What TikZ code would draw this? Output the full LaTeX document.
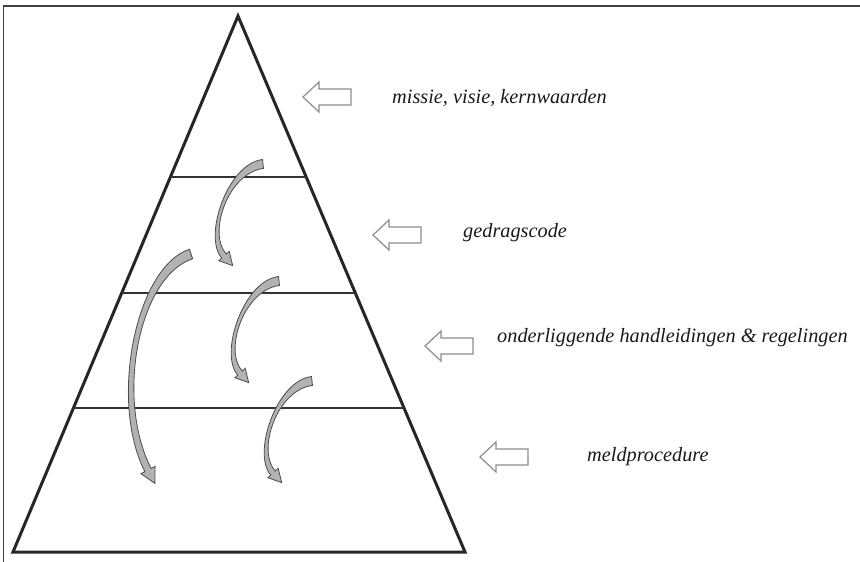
\documentclass[tikz,border=0pt]{standalone}
\usepackage{fontspec}
\setmainfont{Liberation Serif}
\usetikzlibrary{calc}
\tikzset{
  tri/.style={line width=3pt, draw=black!85, line join=miter},
  tier/.style={line width=2pt, draw=black!80},
  frameline/.style={line width=1.6pt, draw=black!75},
  blockarrow/.style={draw=black!45, line width=1.2pt, fill=white, line join=miter},
  curved/.style={draw=black!70, line width=0.8pt, fill=black!30},
  lbl/.style={font=\fontsize{20.3}{24}\selectfont\itshape, anchor=base west, inner sep=0pt, text=black!90},
}
% #1..#4 centre-line points, #5 half width at tail, #6 half width at head base,
% #7 half width of head, #8 head length
\newcommand\curvarr[8]{%
  \coordinate (P0) at #1; \coordinate (P1) at #2;
  \coordinate (P2) at #3; \coordinate (P3) at #4;
  \coordinate (L0) at ($(P0)!#5!90:(P1)$);
  \coordinate (R0) at ($(P0)!#5!-90:(P1)$);
  \coordinate (L3) at ($(P3)!#6!-90:(P2)$);
  \coordinate (R3) at ($(P3)!#6!90:(P2)$);
  \coordinate (L1) at ($(L0)+(P1)-(P0)$);
  \coordinate (R1) at ($(R0)+(P1)-(P0)$);
  \coordinate (L2) at ($(L3)+(P2)-(P3)$);
  \coordinate (R2) at ($(R3)+(P2)-(P3)$);
  \coordinate (HL) at ($(P3)!#7!-90:(P2)$);
  \coordinate (HR) at ($(P3)!#7!90:(P2)$);
  \coordinate (T) at ($(P3)!#8!180:(P2)$);
  \filldraw[curved] (L0) .. controls (L1) and (L2) .. (L3) -- (HL) -- (T) -- (HR)
     -- (R3) .. controls (R2) and (R1) .. (R0) -- cycle;
}
\newcommand\blockarr[2]{%
  \draw[blockarrow] (#1,#2) -- ++(16,-15) -- ++(0,7) -- ++(32,0) -- ++(0,16)
     -- ++(-32,0) -- ++(0,7) -- cycle;
}
\begin{document}
\begin{tikzpicture}[x=1pt,y=-1pt]
  \useasboundingbox (0,0) rectangle (860,562);
  % frame
  \coordinate (ftl) at (3.5,6);
  \coordinate (ftr) at (862,6);
  \coordinate (fbl) at (3.5,564);
  \draw[frameline] (ftr) -- (ftl) -- (fbl);
  % pyramid
  \coordinate (apex) at (238,16);
  \coordinate (bl) at (13,552);
  \coordinate (br) at (465,552);
  \draw[tri] (apex) -- (br) -- (bl) -- cycle;
  \draw[tier] ($(apex)!0.3004!(bl)$) -- ($(apex)!0.3004!(br)$);
  \draw[tier] ($(apex)!0.5168!(bl)$) -- ($(apex)!0.5168!(br)$);
  \draw[tier] ($(apex)!0.7313!(bl)$) -- ($(apex)!0.7313!(br)$);
  % curved arrows
  \curvarr{(263,164)}{(228,168)}{(205,235)}{(224,256)}{4.5pt}{3pt}{7pt}{13pt}
  \curvarr{(279,281)}{(244,285)}{(221,352)}{(240,373)}{4.5pt}{3pt}{7pt}{13pt}
  \curvarr{(312,381)}{(277,385)}{(254,452)}{(273,473)}{4.5pt}{3pt}{7pt}{13pt}
  \curvarr{(191,254)}{(137,272)}{(112,400)}{(148,470)}{5pt}{3.5pt}{8pt}{15pt}
  % block arrows
  \blockarr{303}{97}
  \blockarr{373}{235}
  \blockarr{425}{346}
  \blockarr{480}{457}
  % labels
  \node[lbl] (t1) at (392,103) {missie, visie, kernwaarden};
  \node[lbl] (t2) at (463,237) {gedragscode};
  \node[lbl] (t3) at (497,342) {onderliggende handleidingen \& regelingen};
  \node[lbl] (t4) at (587,461) {meldprocedure};
\end{tikzpicture}
\end{document}
